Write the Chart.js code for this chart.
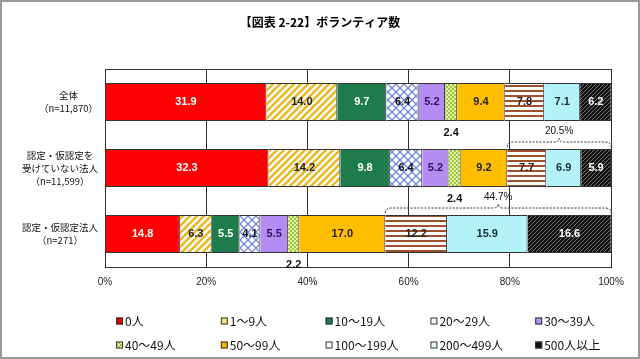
<!DOCTYPE html>
<html><head><meta charset="utf-8">
<script src="https://cdn.jsdelivr.net/npm/chart.js@4/dist/chart.umd.min.js"></script>
<style>html,body{margin:0;padding:0;background:#fff}#wrap{width:640px;height:359px;position:relative}</style>
</head><body><div id="wrap"><canvas id="c" width="640" height="359"></canvas></div>
<script>
// ---- data ----
const chartTitle = '【図表 2-22】ボランティア数';
const groupLabels = [
  ['全体', '（n=11,870）'],
  ['認定・仮認定を', '受けていない法人', '（n=11,599）'],
  ['認定・仮認定法人', '（n=271）']
];
const seriesNames = ['0人', '1～9人', '10～19人', '20～29人', '30～39人', '40～49人', '50～99人', '100～199人', '200～499人', '500人以上'];
const vol0     = [31.9, 32.3, 14.8];
const vol1to9  = [14.0, 14.2, 6.3];
const vol10to19 = [9.7, 9.8, 5.5];
const vol20to29 = [6.4, 6.4, 4.1];
const vol30to39 = [5.2, 5.2, 5.5];
const vol40to49 = [2.4, 2.4, 2.2];
const vol50to99 = [9.4, 9.2, 17.0];
const vol100to199 = [7.8, 7.7, 12.2];
const vol200to499 = [7.1, 6.9, 15.9];
const vol500plus = [6.2, 5.9, 16.6];
const bracketLabels = [null, '20.5%', '44.7%'];
const xTickLabels = ['0%', '20%', '40%', '60%', '80%', '100%'];

const seriesValues = [vol0, vol1to9, vol10to19, vol20to29, vol30to39, vol40to49, vol50to99, vol100to199, vol200to499, vol500plus];

// ---- patterns ----
function tile(w, h, fn) {
  const c = document.createElement('canvas'); c.width = w; c.height = h;
  const g = c.getContext('2d'); fn(g, w, h);
  return document.getElementById('c').getContext('2d').createPattern(c, 'repeat');
}
const pat = {
  stripesGold: tile(7, 7, (g, w, h) => {
    g.fillStyle = '#fff'; g.fillRect(0, 0, w, h);
    g.strokeStyle = '#eab820'; g.lineWidth = 2.6;
    g.beginPath();
    g.moveTo(-1, h + 1); g.lineTo(w + 1, -1);
    g.moveTo(-1 - w, h + 1); g.lineTo(1, -1);
    g.moveTo(w - 1, h + 1); g.lineTo(2 * w + 1, -1);
    g.stroke();
  }),
  lattice: tile(8, 8, (g, w, h) => {
    g.fillStyle = '#fff'; g.fillRect(0, 0, w, h);
    g.strokeStyle = '#7387d8'; g.lineWidth = 1.3;
    g.beginPath();
    g.moveTo(0, 0); g.lineTo(w, h);
    g.moveTo(w, 0); g.lineTo(0, h);
    g.stroke();
  }),
  checker: tile(4, 4, (g, w, h) => {
    g.fillStyle = '#e4f2a8'; g.fillRect(0, 0, w, h);
    g.fillStyle = '#9cc83c'; g.fillRect(0, 0, 2, 2); g.fillRect(2, 2, 2, 2);
  }),
  hBrown: tile(4, 5, (g, w, h) => {
    g.fillStyle = '#fff'; g.fillRect(0, 0, w, h);
    g.fillStyle = '#a0502c'; g.fillRect(0, 0, w, 2);
  }),
  darkDiag: tile(4, 4, (g, w, h) => {
    g.fillStyle = '#111'; g.fillRect(0, 0, w, h);
    g.strokeStyle = '#8a8a8a'; g.lineWidth = 0.8;
    g.beginPath();
    g.moveTo(0, h); g.lineTo(w, 0);
    g.moveTo(-w, h); g.lineTo(0, 0);
    g.moveTo(w, h + w); g.lineTo(w + w, 0);
    g.stroke();
  })
};
const fills = ['#ff0000', pat.stripesGold, '#1e7b4c', pat.lattice, '#b48cf2', pat.checker, '#ffbf00', pat.hBrown, '#b2f2f8', pat.darkDiag];
const labelColors = ['#fff', '#222', '#fff', '#111', '#2c1460', '#222', '#222', '#222', '#1a2a3a', '#fff'];
const legendFills = ['#e00000', '#f6e27a', '#1e7b4c', '#fff', '#b48cf2', pat.checker, '#f0b400', '#fff', '#e6fafc', '#111'];

const JP = '"Noto Sans CJK JP", "Noto Sans", sans-serif';

const drawPlugin = {
  id: 'custom',
  beforeDraw(chart) {
    const ctx = chart.ctx;
    ctx.save(); ctx.fillStyle = '#fff'; ctx.fillRect(0, 0, chart.width, chart.height); ctx.restore();
  },
  beforeDatasetsDraw(chart) {
    const { ctx, chartArea: a } = chart;
    ctx.save(); ctx.strokeStyle = '#333'; ctx.lineWidth = 1;
    ctx.beginPath(); ctx.moveTo(a.left, a.top + 0.5); ctx.lineTo(a.right, a.top + 0.5); ctx.stroke();
    ctx.restore();
  },
  afterDatasetsDraw(chart) {
    const ctx = chart.ctx;
    const xs = chart.scales.x;
    ctx.save();
    ctx.textAlign = 'center'; ctx.textBaseline = 'middle';
    ctx.font = 'bold 11px "Liberation Sans", Arial, sans-serif';
    chart.data.datasets.forEach((ds, di) => {
      const meta = chart.getDatasetMeta(di);
      meta.data.forEach((bar, i) => {
        const v = ds.data[i];
        const cx = (bar.x + bar.base) / 2;
        if (di === 5) {
          ctx.fillStyle = '#111';
          ctx.fillText(v.toFixed(1), cx, bar.y + bar.height / 2 + 12);
        } else {
          ctx.fillStyle = labelColors[di];
          ctx.fillText(v.toFixed(1), cx, bar.y);
        }
      });
    });
    // brackets
    const meta0 = chart.getDatasetMeta(0);
    bracketLabels.forEach((lab, i) => {
      if (!lab) return;
      let cum = 0; for (let k = 0; k < 7; k++) cum += seriesValues[k][i];
      const x0 = xs.getPixelForValue(cum), x1 = xs.getPixelForValue(100);
      const top = meta0.data[i].y - meta0.data[i].height / 2;
      const y = top - 7, mid = (x0 + x1) / 2;
      ctx.strokeStyle = '#333'; ctx.lineWidth = 1; ctx.setLineDash([2, 1.5]);
      ctx.beginPath();
      ctx.moveTo(x0, y + 5);
      ctx.quadraticCurveTo(x0, y, x0 + 6, y);
      ctx.lineTo(mid - 5, y);
      ctx.quadraticCurveTo(mid, y, mid, y - 4);
      ctx.quadraticCurveTo(mid, y, mid + 5, y);
      ctx.lineTo(x1 - 6, y);
      ctx.quadraticCurveTo(x1, y, x1, y + 5);
      ctx.stroke();
      ctx.setLineDash([]);
      ctx.fillStyle = '#111';
      ctx.font = '10px "Liberation Sans", Arial, sans-serif';
      ctx.fillText(lab, mid, y - 11);
      ctx.font = 'bold 11px "Liberation Sans", Arial, sans-serif';
    });
    ctx.restore();
  },
  afterDraw(chart) {
    const ctx = chart.ctx;
    const ys = chart.scales.y;
    ctx.save();
    // title
    ctx.font = 'bold 12px ' + JP; ctx.fillStyle = '#000';
    ctx.textAlign = 'center'; ctx.textBaseline = 'middle';
    ctx.fillText(chartTitle, chart.width / 2, 22);
    // category labels
    ctx.font = '9.5px ' + JP; ctx.fillStyle = '#111';
    const rightEdge = chart.chartArea.left - 7, lh = 13;
    groupLabels.forEach((lines, i) => {
      const cy = ys.getPixelForValue(i);
      const wmax = Math.max(...lines.map(t => ctx.measureText(t).width));
      const cx = rightEdge - wmax / 2;
      lines.forEach((t, j) => ctx.fillText(t, cx, cy + (j - (lines.length - 1) / 2) * lh));
    });
    // legend
    ctx.font = '12px ' + JP; ctx.textAlign = 'left';
    const startX = 116, colW = 104.8, rowY = [321, 345], box = 7;
    seriesNames.forEach((name, k) => {
      const col = k % 5, row = Math.floor(k / 5);
      const bx = startX + col * colW, by = rowY[row];
      ctx.fillStyle = legendFills[k];
      ctx.fillRect(bx, by - box / 2, box, box);
      ctx.strokeStyle = '#333'; ctx.lineWidth = 1;
      ctx.strokeRect(bx + 0.5, by - box / 2 + 0.5, box - 1, box - 1);
      ctx.fillStyle = '#111';
      ctx.fillText(name, bx + box + 2, by);
    });
    // frame
    ctx.strokeStyle = '#9a9a9a'; ctx.lineWidth = 2;
    ctx.strokeRect(1, 1, chart.width - 2, chart.height - 2);
    ctx.restore();
  }
};

new Chart(document.getElementById('c'), {
  type: 'bar',
  data: {
    labels: groupLabels,
    datasets: seriesNames.map((n, k) => ({
      label: n,
      data: seriesValues[k],
      backgroundColor: fills[k],
      borderColor: '#333',
      borderWidth: 1,
      barPercentage: 0.575,
      categoryPercentage: 1
    }))
  },
  options: {
    indexAxis: 'y',
    responsive: false,
    animation: false,
    devicePixelRatio: 1,
    layout: { padding: { left: 105, right: 29, top: 69, bottom: 62 } },
    plugins: {
      legend: { display: false },
      tooltip: { enabled: false },
      title: { display: false }
    },
    scales: {
      x: {
        stacked: true, min: 0, max: 100,
        ticks: { stepSize: 20, padding: 9, color: '#222', font: { family: '"Liberation Sans", Arial, sans-serif', size: 10 },
          callback: (v, i) => xTickLabels[i] },
        grid: { color: '#333', drawTicks: false },
        border: { color: '#333' }
      },
      y: { stacked: true, display: false }
    }
  },
  plugins: [drawPlugin]
});
</script>
</body></html>
